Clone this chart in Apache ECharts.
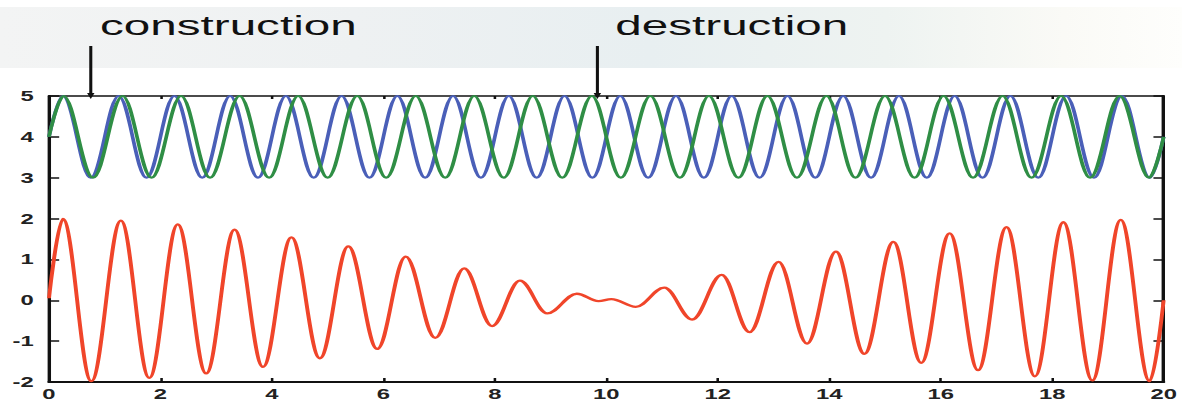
<!DOCTYPE html>
<html>
<head>
<meta charset="utf-8">
<script src="https://cdn.jsdelivr.net/npm/echarts@6/dist/echarts.min.js"></script>
<style>
html,body{margin:0;padding:0;background:#fff;overflow:hidden;}
#chart{width:695px;height:401px;transform-origin:0 0;transform:scaleX(1.70072);}
</style>
</head>
<body>
<div id="chart"></div>
<script>
// ---- data ----
const xRange = [0, 20];
const yRange = [-2, 5];
const xStep = 2;
const yStep = 1;

// blue wave: extrema (x, value)
const bluePoints = [
  [0,4],[0.25,5],[0.75,3],[1.25,5],[1.75,3],[2.25,5],[2.75,3],[3.25,5],[3.75,3],
  [4.25,5],[4.75,3],[5.25,5],[5.75,3],[6.25,5],[6.75,3],[7.25,5],[7.75,3],
  [8.25,5],[8.75,3],[9.25,5],[9.75,3],[10.25,5],[10.75,3],[11.25,5],[11.75,3],
  [12.25,5],[12.75,3],[13.25,5],[13.75,3],[14.25,5],[14.75,3],[15.25,5],[15.75,3],
  [16.25,5],[16.75,3],[17.25,5],[17.75,3],[18.25,5],[18.75,3],[19.25,5],[19.75,3],[20,4]
];

// green wave: extrema (x, value)
const greenPoints = [
  [0,4],[0.26,5],[0.79,3],[1.32,5],[1.84,3],[2.37,5],[2.89,3],[3.42,5],[3.95,3],
  [4.47,5],[5.0,3],[5.53,5],[6.05,3],[6.58,5],[7.11,3],[7.63,5],[8.16,3],
  [8.68,5],[9.21,3],[9.74,5],[10.26,3],[10.79,5],[11.32,3],[11.84,5],[12.37,3],
  [12.89,5],[13.42,3],[13.95,5],[14.47,3],[15.0,5],[15.53,3],[16.05,5],[16.58,3],
  [17.11,5],[17.63,3],[18.16,5],[18.68,3],[19.21,5],[19.74,3],[20,4]
];

// red sum wave: extrema (x, value)
const redPoints = [
  [0,0.05],[0.25,1.99],[0.76,-1.98],[1.29,1.95],[1.80,-1.90],[2.31,1.86],[2.82,-1.79],
  [3.33,1.73],[3.84,-1.63],[4.35,1.54],[4.86,-1.42],[5.37,1.32],[5.89,-1.19],
  [6.40,1.07],[6.93,-0.92],[7.45,0.78],[7.95,-0.63],[8.45,0.48],[8.94,-0.32],
  [9.47,0.16],[9.86,-0.02],[10.09,0.03],[10.53,-0.16],[11.04,0.31],[11.54,-0.47],
  [12.07,0.62],[12.57,-0.78],[13.09,0.94],[13.60,-1.06],[14.12,1.19],[14.63,-1.31],
  [15.15,1.43],[15.65,-1.53],[16.16,1.64],[16.67,-1.71],[17.18,1.79],[17.69,-1.86],
  [18.20,1.91],[18.72,-1.96],[19.23,1.97],[19.75,-1.98],[20,0]
];

const annotationLabels = ['construction', 'destruction'];
const annotationX = [0.75, 9.84];

// ---- styling / layout ----
const FONT = '"Liberation Sans", Arial, Helvetica, sans-serif';
const chart = echarts.init(document.getElementById('chart'), null, {renderer: 'svg'});

const axisLineStyle = {color: '#111', width: 2};
const tickStyle = {color: '#111', width: 1.5};
const labelStyle = {fontSize: 14, fontWeight: 'bold', color: '#222', fontFamily: FONT};

function lineSeries(name, pts, color, width) {
  return {
    name: name, type: 'line', data: pts,
    xAxisIndex: 0, yAxisIndex: 0,
    showSymbol: false, symbol: 'none',
    smooth: 0.364, smoothMonotone: 'x',
    clip: false,
    lineStyle: {color: color, width: width},
    emphasis: {disabled: true},
    z: 3
  };
}

chart.setOption({
  animation: false,
  backgroundColor: '#ffffff',
  textStyle: {fontFamily: FONT},
  grid: {left: 28.8, right: 2.9, top: 96, bottom: 19, containLabel: false},
  xAxis: [
    {type: 'value', min: xRange[0], max: xRange[1], interval: xStep, position: 'bottom',
     axisLine: {show: true, onZero: false, lineStyle: axisLineStyle},
     axisTick: {show: true, inside: true, length: 4, lineStyle: tickStyle},
     axisLabel: Object.assign({show: true, margin: 5, showMinLabel: true, showMaxLabel: true}, labelStyle),
     splitLine: {show: false}},
    {type: 'value', min: xRange[0], max: xRange[1], interval: xStep, position: 'top',
     axisLine: {show: true, onZero: false, lineStyle: {color: '#111', width: 1.5}},
     axisTick: {show: true, inside: true, length: 3, lineStyle: tickStyle},
     axisLabel: {show: false}, splitLine: {show: false}}
  ],
  yAxis: [
    {type: 'value', min: yRange[0], max: yRange[1], interval: yStep, position: 'left',
     axisLine: {show: true, onZero: false, lineStyle: axisLineStyle},
     axisTick: {show: true, inside: true, length: 6, lineStyle: tickStyle},
     axisLabel: Object.assign({show: true, margin: 9, showMinLabel: true, showMaxLabel: true}, labelStyle),
     splitLine: {show: false}},
    {type: 'value', min: yRange[0], max: yRange[1], interval: yStep, position: 'right',
     axisLine: {show: true, onZero: false, lineStyle: axisLineStyle},
     axisTick: {show: true, inside: true, length: 6, lineStyle: tickStyle},
     axisLabel: {show: false}, splitLine: {show: false}}
  ],
  series: [
    lineSeries('blue', bluePoints, '#4a5fb8', 2.2),
    lineSeries('green', greenPoints, '#2f8e45', 2.2),
    lineSeries('sum', redPoints, '#f0452a', 2.3)
  ]
});

// annotations: header band, words and arrows
const textLeft = [58.8, 361.8];
const graphics = [
  {type: 'rect', z: -10, silent: true,
   shape: {x: 0, y: 7, width: 695, height: 61},
   style: {fill: {type: 'linear', x: 0, y: 0, x2: 1, y2: 0, colorStops: [
     {offset: 0, color: '#f3f4f4'}, {offset: 0.3, color: '#eef1f2'},
     {offset: 0.55, color: '#e8eff1'}, {offset: 0.75, color: '#eef3f1'},
     {offset: 0.9, color: '#fafaf6'}, {offset: 1, color: '#fefefc'}]}}}
];
annotationLabels.forEach(function (t, i) {
  graphics.push({type: 'text', z: 10, silent: true, x: textLeft[i], y: 25,
    style: {text: t, font: '28px ' + FONT, fill: '#111', align: 'left', verticalAlign: 'middle'}});
  const px = chart.convertToPixel({xAxisIndex: 0}, annotationX[i]);
  graphics.push({type: 'line', z: 10, silent: true,
    shape: {x1: px, y1: 46, x2: px, y2: 95}, style: {stroke: '#111', lineWidth: 1.8}});
  graphics.push({type: 'polygon', z: 10, silent: true,
    shape: {points: [[px - 2.2, 93], [px + 2.2, 93], [px, 99]]}, style: {fill: '#111'}});
});
chart.setOption({graphic: graphics});
</script>
</body>
</html>
